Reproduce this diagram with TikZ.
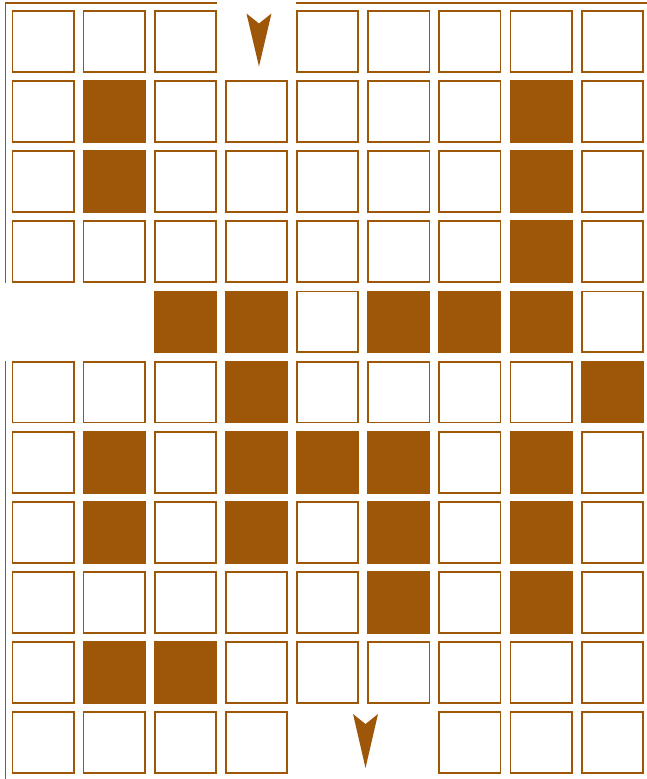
\documentclass[tikz,border=0pt]{standalone}
\usepackage{tikz}
\usetikzlibrary{calc}

\definecolor{maze}{RGB}{158,87,8}
\tikzset{
  kind0/.style={draw=maze, line width=1.8pt, fill=white, inner sep=0pt,
    minimum width=61.2pt, minimum height=60.9pt},
  kind1/.style={kind0, fill=maze},
  kind2/.style={kind0, draw=none, fill=none},
  wall/.style={draw=maze, line width=1.8pt}
}

\begin{document}
\begin{tikzpicture}[x=1pt, y=-1pt]
\useasboundingbox (0,0) rectangle (647,779);
\coordinate (nw) at (5.5,3);
\coordinate (ne) at (647,3);
\coordinate (sw) at (5.5,779);
% 0 = open cell, 1 = blocked cell, 2 = no cell
\foreach \row [count=\r from 0] in {
    {0,0,0,2,0,0,0,0,0},
    {0,1,0,0,0,0,0,1,0},
    {0,1,0,0,0,0,0,1,0},
    {0,0,0,0,0,0,0,1,0},
    {2,2,1,1,0,1,1,1,0},
    {0,0,0,1,0,0,0,0,1},
    {0,1,0,1,1,1,0,1,0},
    {0,1,0,1,0,1,0,1,0},
    {0,0,0,0,0,1,0,1,0},
    {0,1,1,0,0,0,0,0,0},
    {0,0,0,0,2,2,0,0,0}}
  \foreach \k [count=\c from 0] in \row
    \node[kind\k] (c-\r-\c) at ({43+71.16*\c},{41.3+70.15*\r}) {};
% outer walls
\draw[wall] (c-0-2.east |- nw) -- (nw) -- (nw |- c-3-0.south);
\draw[wall] (nw |- c-5-0.north) -- (sw);
\draw[wall] (c-0-4.west |- nw) -- (ne);
% entrance and exit
\fill[maze] ($(c-0-3)+(2.5,-1.3)$) ++(-12.5,-26.5) -- ++(12.5,10) -- ++(12.5,-10) -- ++(-12.5,53) -- cycle;
\fill[maze] ($(c-10-4)!0.5!(c-10-5)+(2.3,-1.8)$) ++(-12.5,-27) -- ++(12.5,10) -- ++(12.5,-10) -- ++(-12.5,54) -- cycle;
\end{tikzpicture}
\end{document}
